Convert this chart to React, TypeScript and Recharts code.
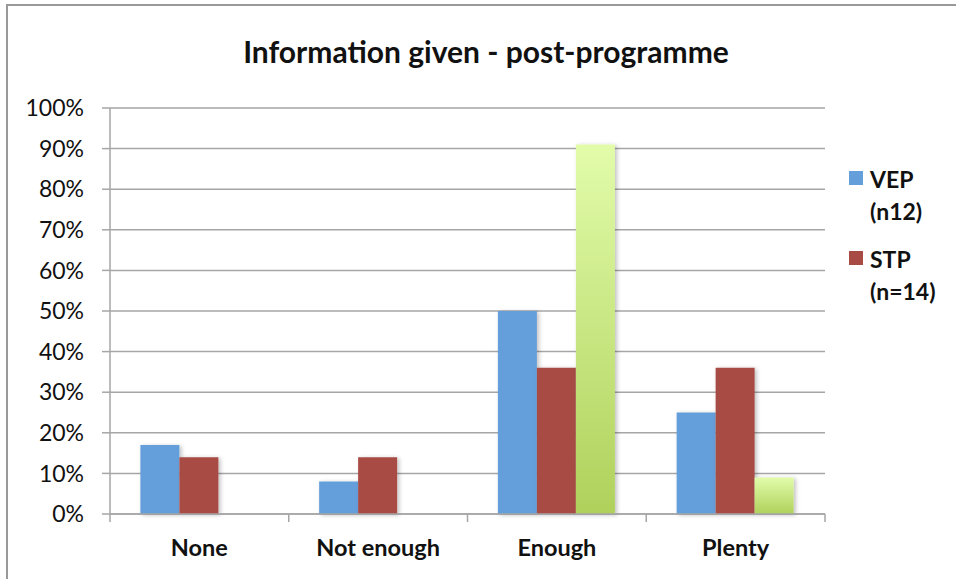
import { BarChart, Bar, XAxis, YAxis, CartesianGrid, Legend } from 'recharts'

const categories = ['None', 'Not enough', 'Enough', 'Plenty']
const vep = [17, 8, 50, 25]
const stp = [14, 14, 36, 36]
const third = [0, 0, 91, 9]
const yTicks = [0, 10, 20, 30, 40, 50, 60, 70, 80, 90, 100]

const data = categories.map((name, i) => ({
  name,
  vep: vep[i],
  stp: stp[i],
  third: third[i],
}))

const FONT = 'Lato, "Open Sans", sans-serif'
const AXIS_GREY = '#a6a6a6'

const legendItems = [
  { label: 'VEP', sub: '(n12)', color: '#659fdb' },
  { label: 'STP', sub: '(n=14)', color: '#a84b45' },
]

function LegendBox() {
  return (
    <div style={{ fontFamily: FONT, fontWeight: 700, fontSize: 23, color: '#111' }}>
      {legendItems.map((it) => (
        <div key={it.label} style={{ display: 'flex', marginBottom: 16 }}>
          <div style={{ width: 14, height: 14, background: it.color, marginTop: 8, marginRight: 7 }} />
          <div style={{ lineHeight: '32px' }}>
            <div>{it.label}</div>
            <div>{it.sub}</div>
          </div>
        </div>
      ))}
    </div>
  )
}

// category label plus the separator tick marks at the band edges
function CategoryTick(props: any) {
  const { x, y, payload, index, visibleTicksCount } = props
  const half = payload.offset || 0
  const last = index === (visibleTicksCount ?? categories.length) - 1
  return (
    <g>
      <line x1={x - half} x2={x - half} y1={y} y2={y + 8} stroke={AXIS_GREY} strokeWidth={1.5} />
      {last && <line x1={x + half} x2={x + half} y1={y} y2={y + 8} stroke={AXIS_GREY} strokeWidth={1.5} />}
      <text x={x} y={y + 42} textAnchor="middle" fill="#111" fontSize={23.5} fontWeight={700}>
        {payload.value}
      </text>
    </g>
  )
}

export default function App() {
  return (
    <div
      style={{
        position: 'absolute',
        left: 0,
        top: 0,
        width: 956,
        height: 579,
        background: '#fff',
        fontFamily: FONT,
        overflow: 'hidden',
      }}
    >
      {/* frame */}
      <div
        style={{
          position: 'absolute',
          left: 6,
          top: 4,
          width: 960,
          height: 600,
          borderTop: '2px solid #999',
          borderLeft: '2px solid #999',
        }}
      />
      <div
        style={{
          position: 'absolute',
          left: 0,
          width: 972,
          top: 33,
          textAlign: 'center',
          fontSize: 30,
          fontWeight: 700,
          color: '#111',
        }}
      >
        Information given - post-programme
      </div>
      <div style={{ position: 'absolute', left: 0, top: 0 }}>
        <BarChart
          width={956}
          height={579}
          data={data}
          margin={{ top: 108, right: 131, left: 0, bottom: 16 }}
          barCategoryGap="17%"
          barGap={0}
        >
          <defs>
            <linearGradient id="greenGrad" x1="0" y1="0" x2="0" y2="1">
              <stop offset="0%" stopColor="#e2fcaa" />
              <stop offset="100%" stopColor="#afd15b" />
            </linearGradient>
            <filter id="barShadow" x="-10%" y="-10%" width="130%" height="130%">
              <feDropShadow dx="2" dy="1" stdDeviation="2" floodColor="#000" floodOpacity="0.25" />
            </filter>
          </defs>
          <CartesianGrid vertical={false} stroke={AXIS_GREY} strokeWidth={1.5} />
          <XAxis
            dataKey="name"
            height={49}
            axisLine={{ stroke: AXIS_GREY, strokeWidth: 1.5 }}
            tickLine={false}
            tickSize={0}
            tickMargin={0}
            tick={<CategoryTick />}
            interval={0}
          />
          <YAxis
            width={110}
            domain={[0, 100]}
            ticks={yTicks}
            interval={0}
            tickFormatter={(v: number) => `${v}%`}
            tick={{ fill: '#111', fontSize: 23 }}
            tickSize={8}
            tickMargin={18}
            axisLine={{ stroke: AXIS_GREY, strokeWidth: 1.5 }}
            tickLine={{ stroke: AXIS_GREY, strokeWidth: 1.5 }}
          />
          <Legend
            layout="horizontal"
            verticalAlign="middle"
            align="center"
            content={() => <LegendBox />}
            wrapperStyle={{ left: 849, top: 163, width: 107 }}
          />
          <Bar dataKey="vep" name="VEP (n12)" fill="#659fdb" filter="url(#barShadow)" isAnimationActive={false} />
          <Bar dataKey="stp" name="STP (n=14)" fill="#a84b45" filter="url(#barShadow)" isAnimationActive={false} />
          <Bar dataKey="third" name="third" fill="url(#greenGrad)" filter="url(#barShadow)" legendType="none" isAnimationActive={false} />
        </BarChart>
      </div>
    </div>
  )
}
